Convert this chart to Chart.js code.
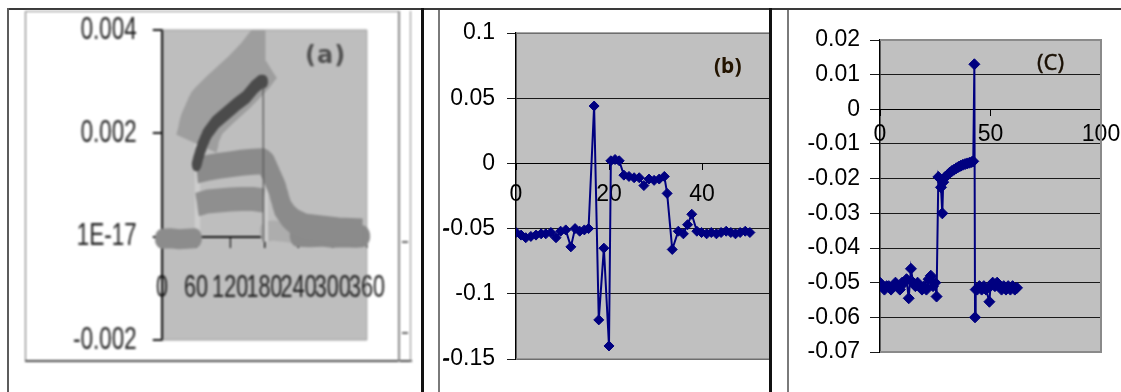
<!DOCTYPE html>
<html>
<head>
<meta charset="utf-8">
<script src="https://cdn.jsdelivr.net/npm/chart.js@4.4.1/dist/chart.umd.min.js"></script>
<style>
  html, body { margin: 0; padding: 0; background: #fff; }
  body { position: relative; width: 1121px; height: 392px; overflow: hidden; }
  .ln { position: absolute; }
  canvas { position: absolute; display: block; }
  .clip { position: absolute; overflow: hidden; }
  .tag { position: absolute; white-space: nowrap; line-height: 1; }
</style>
</head>
<body>
<!-- table frame -->
<div class="ln" style="left:7px; top:8px; width:1114px; height:2px; background:#3a3a3a"></div>
<div class="ln" style="left:7px; top:8px; width:2px; height:384px; background:#5c5c5c"></div>
<div class="ln" style="left:421px; top:8px; width:3px; height:384px; background:#111"></div>
<div class="ln" style="left:769px; top:8px; width:3px; height:384px; background:#111"></div>
<div class="ln" style="left:438px; top:10px; width:2px; height:382px; background:#7a7a7a"></div>
<div class="ln" style="left:787px; top:10px; width:2px; height:382px; background:#7a7a7a"></div>
<div class="ln" style="left:443px; top:229px; width:6px; height:2px; background:#333"></div>
<div class="ln" style="left:443px; top:359px; width:6px; height:2px; background:#333"></div>

<!-- panel (a): scanned figure, soft and horizontally squeezed -->
<div style="position:absolute; left:0; top:0; width:420px; height:392px; filter:blur(1px)">
  <div class="ln" style="left:25px; top:11px; width:1px; height:351px; background:#6e6e6e"></div>
  <div class="ln" style="left:25px; top:11px; width:374px; height:1px; background:#8a8a8a"></div>
  <div class="ln" style="left:25px; top:360px; width:387px; height:2px; background:#4a4a4a"></div>
  <div class="ln" style="left:398px; top:11px; width:2px; height:351px; background:#8a8a8a"></div>
  <div class="ln" style="left:410px; top:11px; width:1px; height:351px; background:#8a8a8a"></div>
  <div class="ln" style="left:402px; top:241px; width:6px; height:2px; background:#666"></div>
  <div class="ln" style="left:402px; top:332px; width:6px; height:2px; background:#666"></div>
  <canvas id="chartA" width="532" height="348"
          style="left:26px; top:12px; transform:scaleX(0.7); transform-origin:0 0"></canvas>
  <div class="tag" style="left:305px; top:41px; font:bold 24px 'DejaVu Sans', sans-serif; color:#505050; letter-spacing:1px">(a)</div>
</div>

<!-- panel (b) -->
<div class="clip" style="left:440px; top:10px; width:329px; height:382px">
  <canvas id="chartB" width="380" height="392" style="left:-1px; top:-10px"></canvas>
</div>
<div class="tag" style="left:714px; top:51px; font:bold 21px 'Noto Sans', sans-serif; color:#231400">(b)</div>

<!-- panel (c) -->
<div class="clip" style="left:789px; top:10px; width:332px; height:382px">
  <canvas id="chartC" width="332" height="392" style="left:0; top:-10px"></canvas>
</div>
<div class="tag" style="left:1037px; top:46px; font:22px 'Noto Sans', sans-serif; color:#1a1004; -webkit-text-stroke:0.4px #1a1004">(C)</div>

<script>
// ---- (a) four current traces, centre of each noisy band ----
const aBaseLeftX  = [0, 15, 30, 45, 58];
const aBaseLeftY  = [-0.00004, -0.00003, -0.00005, -0.00004, -0.00003];
const aBaseRightX = [238, 260, 280, 300, 320, 340, 352];
const aBaseRightY = [0.00002, 0.00001, 0.00002, 0.0, 0.00001, 0.0, 0.00001];
const aResidueX   = [184, 195, 210, 225, 240];
const aResidueY   = [0.0001, 0.00012, 0.0001, 0.00008, 0.00005];
const aUpperX = [61, 67, 79, 102, 137, 163, 177, 182];
const aUpperY = [0.0018, 0.0021, 0.0024, 0.00265, 0.003, 0.0033, 0.0035, 0.0035];
const aDarkX  = [61, 66, 72, 80, 95, 112, 130, 148, 163, 174, 178];
const aDarkY  = [0.0014, 0.0016, 0.0018, 0.002, 0.00222, 0.00238, 0.00255, 0.0027, 0.0029, 0.003, 0.003];
const aDropX  = [178, 178.5];
const aDropY  = [0.0029, -0.0001];
const aMidX = [61, 80, 100, 120, 140, 160, 178, 184, 190, 196, 202, 212, 222, 232, 250, 272, 310, 352];
const aMidY = [0.00128, 0.00133, 0.00137, 0.0014, 0.00143, 0.00145, 0.00146, 0.0014, 0.00125, 0.0011,
               0.00095, 0.00056, 0.0004, 0.0003, 0.0002, 0.00017, 0.00012, 0.0001];
const aLowX = [62, 80, 100, 120, 140, 160, 179];
const aLowY = [0.00062, 0.00068, 0.0007, 0.00072, 0.00073, 0.00073, 0.0007];
// switch-on / switch-off edges
const aEdgeX = [62, 62.5, 120, 181, 182];
const aEdgeY = [-0.0001, 0.0018, null, 0.0017, -0.0001];
const aYTicks = ['-0.002', '1E-17', '0.002', '0.004'];

// ---- (b) ----
const bX = [0, 1.1, 2.1, 3.2, 4.3, 5.4, 6.4, 7.5, 8.6, 9.6,
            10.7, 11.8, 12.7, 13.7, 14.7, 15.6, 16.8, 17.8, 18.9, 20.0,
            20.4, 21.3, 22.2, 23.2, 24.3, 25.4, 26.5, 27.5, 28.6, 29.7,
            30.8, 31.9, 32.5, 33.6, 34.9, 36.0, 36.9, 37.8, 38.9, 39.9,
            41.0, 42.0, 43.1, 44.1, 45.2, 46.2, 47.2, 48.2, 49.3, 50.3];
const bY = [-0.053, -0.055, -0.057, -0.056, -0.055, -0.054, -0.054, -0.053, -0.057, -0.052,
            -0.051, -0.064, -0.050, -0.052, -0.051, -0.050, 0.044, -0.120, -0.065, -0.140,
            0.002, 0.003, 0.002, -0.009, -0.010, -0.011, -0.011, -0.017, -0.012, -0.013,
            -0.012, -0.010, -0.023, -0.066, -0.052, -0.054, -0.047, -0.039, -0.052, -0.053,
            -0.054, -0.053, -0.054, -0.053, -0.052, -0.053, -0.054, -0.053, -0.052, -0.053];
const bYTicks = ['-0.15', '-0.1', '-0.05', '0', '0.05', '0.1'];
const bXTicks = ['0', '20', '40', '60'];

// ---- (c) ----
const cX = [0, 1, 2, 3, 4, 5, 6, 7, 8, 9, 10, 11, 12, 13, 14, 15, 16, 17, 18, 19, 20, 21, 22, 23, 24, 25,
            25.6, 26.4, 27.6, 28.2, 28.6, 29.5, 30.5, 31.5, 32.5, 33.5, 34.5, 35.5, 36.5, 37.5, 38.5,
            39.5, 40.5, 41.5, 42.2, 42.7, 43.0, 43.3,
            44, 45, 46, 47, 48, 49.5, 50, 51, 52, 53, 54, 55, 56, 57, 58, 59, 60, 61, 62];
const cY = [-0.050, -0.051, -0.052, -0.051, -0.051, -0.052, -0.051, -0.050, -0.051, -0.052,
            -0.050, -0.050, -0.049, -0.0545, -0.046, -0.050, -0.051, -0.050, -0.051, -0.052,
            -0.051, -0.052, -0.049, -0.048, -0.051, -0.050,
            -0.054, -0.0195, -0.0225, -0.030, -0.021, -0.0195, -0.019, -0.0183, -0.0178, -0.0174,
            -0.017, -0.0166, -0.0163, -0.016, -0.0158, -0.0156, -0.0154, -0.0152, -0.015, 0.013,
            -0.060, -0.052,
            -0.052, -0.051, -0.052, -0.051, -0.052, -0.0555, -0.051, -0.050, -0.051, -0.050,
            -0.051, -0.052, -0.051, -0.052, -0.051, -0.052, -0.051, -0.052, -0.0515];
const cYTicks = ['-0.07', '-0.06', '-0.05', '-0.04', '-0.03', '-0.02', '-0.01', '0', '0.01', '0.02'];
const cXTicks = ['0', '50', '100'];

const NAVY = '#000080';
const pts = (xs, ys) => xs.map((x, i) => ({x, y: ys[i]}));

// grey plot area with a thin frame on top, right and bottom
const plotFrame = {
  id: 'plotFrame',
  beforeDraw(chart, args, opts) {
    const {ctx, chartArea: a} = chart;
    ctx.save();
    ctx.fillStyle = opts.fill;
    ctx.fillRect(a.left, a.top, a.right - a.left, a.bottom - a.top);
    ctx.restore();
  },
  beforeDatasetsDraw(chart, args, opts) {
    if (!opts.stroke) return;
    const {ctx, chartArea: a} = chart;
    ctx.save();
    ctx.strokeStyle = opts.stroke;
    ctx.lineWidth = opts.width;
    ctx.beginPath();
    ctx.moveTo(a.left, a.top);
    ctx.lineTo(a.right, a.top);
    ctx.lineTo(a.right, a.bottom);
    ctx.lineTo(a.left, a.bottom);
    ctx.stroke();
    ctx.restore();
  }
};

function fixAxis(width) {
  return s => {
    if (width) s.width = width;
    s.paddingLeft = 0; s.paddingRight = 0; s.paddingTop = 0; s.paddingBottom = 0;
  };
}

function band(xs, ys, color, width, cap) {
  return {
    data: pts(xs, ys), showLine: true, pointRadius: 0,
    borderColor: color, borderWidth: width,
    borderCapStyle: cap || 'round', borderJoinStyle: 'round',
    clip: {left: 14, top: 0, right: 14, bottom: 10}
  };
}

const arial = "'Liberation Sans', Arial, sans-serif";

// ---- chart (a) ----  (canvas is drawn 1/0.7 wide and squeezed by CSS; first dataset on top)
new Chart(document.getElementById('chartA'), {
  type: 'scatter',
  data: {
    datasets: [
      band(aDropX, aDropY, '#5a5a5a', 2, 'butt'),
      band(aDarkX, aDarkY, '#4b4b4b', 14),
      band(aBaseLeftX, aBaseLeftY, '#8c8c8c', 20),
      band(aLowX, aLowY, '#8f8f8f', 24, 'butt'),
      band(aMidX, aMidY, '#8b8b8b', 26, 'butt'),
      band(aUpperX, aUpperY, '#9e9e9e', 60, 'butt'),
      band(aEdgeX, aEdgeY, '#cdcdcd', 8, 'butt'),
      band(aBaseRightX, aBaseRightY, '#8a8a8a', 22),
      band(aResidueX, aResidueY, '#adadad', 20)
    ]
  },
  options: {
    responsive: false, animation: false,
    layout: {padding: {left: 0, top: 18, right: 45, bottom: 20}},
    plugins: {legend: {display: false}, tooltip: {enabled: false},
              plotFrame: {fill: '#bebebe', stroke: '#9a9a9a', width: 1}},
    scales: {
      x: {
        type: 'linear', position: {y: 0}, min: 0, max: 360,
        ticks: {stepSize: 60, autoSkip: false, maxRotation: 0, minRotation: 0, padding: 23,
                color: '#222', font: {family: arial, size: 31}},
        grid: {drawOnChartArea: false, tickLength: 10, color: '#111', lineWidth: 2},
        border: {color: '#111', width: 2},
        afterFit: fixAxis()
      },
      y: {
        min: -0.002, max: 0.004,
        ticks: {stepSize: 0.002, padding: 23, color: '#222', font: {family: arial, size: 32},
                callback: (v, i) => aYTicks[i]},
        grid: {drawOnChartArea: false, tickLength: 13, color: '#111', lineWidth: 2},
        border: {color: '#111', width: 3},
        afterFit: fixAxis(194)
      }
    }
  },
  plugins: [plotFrame]
});

// ---- chart (b) ----
new Chart(document.getElementById('chartB'), {
  type: 'scatter',
  data: {
    datasets: [{
      data: pts(bX, bY), showLine: true,
      borderColor: NAVY, backgroundColor: NAVY, borderWidth: 2,
      pointStyle: 'rectRot', pointRadius: 5, pointBorderWidth: 1
    }]
  },
  options: {
    responsive: false, animation: false,
    layout: {padding: {left: 0, top: 33, right: 24, bottom: 33}},
    plugins: {legend: {display: false}, tooltip: {enabled: false},
              plotFrame: {fill: '#c0c0c0', stroke: '#8a8a8a', width: 1.5}},
    scales: {
      x: {
        type: 'linear', position: {y: 0}, min: 0, max: 60,
        ticks: {stepSize: 20, autoSkip: false, maxRotation: 0, padding: 11, color: '#000',
                font: {family: arial, size: 23}, callback: (v, i) => bXTicks[i]},
        grid: {drawOnChartArea: false, tickLength: 6, color: '#000'},
        border: {color: '#000', width: 1},
        afterFit: fixAxis()
      },
      y: {
        min: -0.15, max: 0.1,
        ticks: {stepSize: 0.05, padding: 12, color: '#000', font: {family: arial, size: 23},
                callback: (v, i) => bYTicks[i]},
        grid: {color: '#1a1a1a', tickLength: 9},
        border: {color: '#000', width: 1.5},
        afterFit: fixAxis(77)
      }
    }
  },
  plugins: [plotFrame]
});

// ---- chart (c) ----
new Chart(document.getElementById('chartC'), {
  type: 'scatter',
  data: {
    datasets: [{
      data: pts(cX, cY), showLine: true,
      borderColor: NAVY, backgroundColor: NAVY, borderWidth: 2,
      pointStyle: 'rectRot', pointRadius: 5.5, pointBorderWidth: 1
    }]
  },
  options: {
    responsive: false, animation: false,
    layout: {padding: {left: 0, top: 40, right: 20, bottom: 40}},
    plugins: {legend: {display: false}, tooltip: {enabled: false},
              plotFrame: {fill: '#c0c0c0', stroke: '#8a8a8a', width: 2}},
    scales: {
      x: {
        type: 'linear', position: {y: 0}, min: 0, max: 100,
        ticks: {stepSize: 50, autoSkip: false, maxRotation: 0, padding: 6, color: '#000',
                font: {family: arial, size: 23}, callback: (v, i) => cXTicks[i]},
        grid: {drawOnChartArea: false, tickLength: 6, color: '#000'},
        border: {color: '#000', width: 1},
        afterFit: fixAxis()
      },
      y: {
        min: -0.07, max: 0.02,
        ticks: {stepSize: 0.01, padding: 10, color: '#000', font: {family: arial, size: 23},
                callback: (v, i) => cYTicks[i]},
        grid: {color: '#1a1a1a', tickLength: 10},
        border: {color: '#000', width: 1.5},
        afterFit: fixAxis(91)
      }
    }
  },
  plugins: [plotFrame]
});
</script>
</body>
</html>
